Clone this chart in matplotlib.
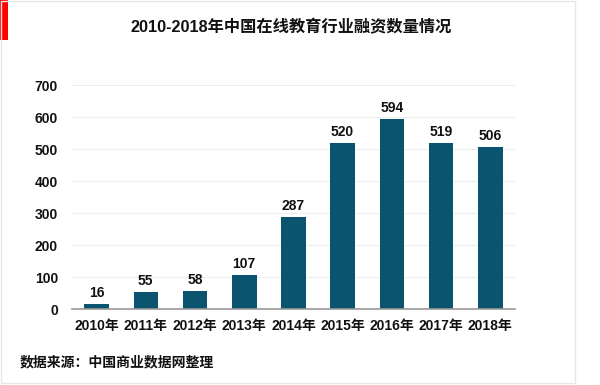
import matplotlib
matplotlib.use("Agg")
import matplotlib.pyplot as plt
from matplotlib.patches import Rectangle

plt.rcParams['font.family'] = ['Liberation Sans', 'Noto Sans CJK SC']

years = ["2010年", "2011年", "2012年", "2013年", "2014年", "2015年", "2016年", "2017年", "2018年"]
counts = [16, 55, 58, 107, 287, 520, 594, 519, 506]
yticks = [0, 100, 200, 300, 400, 500, 600, 700]

title = "2010-2018年中国在线教育行业融资数量情况"
source = "数据来源：中国商业数据网整理"

fig = plt.figure(figsize=(6, 3.85), dpi=100)
ax = fig.add_axes([0.12, 0.197, 0.738, 0.582])

x = range(len(years))
ax.bar(x, counts, width=0.5, color="#0B5470", zorder=3)
for i, v in enumerate(counts):
    ax.text(i, v + 12, str(v), ha="center", va="bottom", fontsize=10, fontweight="bold", color="#111111")

ax.set_xlim(-0.5, len(years) - 0.5)
ax.set_ylim(0, 700)
ax.set_yticks(yticks)
ax.set_xticks(list(x))
ax.set_xticklabels(years)
ax.tick_params(axis="both", length=0, labelsize=10)
ax.tick_params(axis="y", pad=10)
ax.tick_params(axis="x", pad=7)
for lab in ax.get_xticklabels() + ax.get_yticklabels():
    lab.set_fontweight("bold")
    lab.set_color("#111111")
ax.grid(axis="y", color="#EEEEEE", linewidth=0.8, zorder=0)
for s in ["top", "right", "left"]:
    ax.spines[s].set_visible(False)
ax.spines["bottom"].set_color("#999999")
ax.spines["bottom"].set_linewidth(1.2)
ax.spines["bottom"].set_zorder(4)

fig.text(0.485, 0.93, title, ha="center", va="center", fontsize=11.7, fontweight="bold", color="#111111")
fig.text(0.033, 0.06, source, ha="left", va="center", fontsize=10, fontweight="bold", color="#111111")

# red marker at top-left corner and light frame
fig.patches.append(Rectangle((0, 1 - 40 / 385), 8 / 600, 40 / 385, transform=fig.transFigure,
                             facecolor="#FF0000", edgecolor="none"))
fig.patches.append(Rectangle((0.001, 0.006), 0.958, 0.992, transform=fig.transFigure,
                             facecolor="none", edgecolor="#E6E6E6", linewidth=1))

fig.savefig("out.png", dpi=100)
